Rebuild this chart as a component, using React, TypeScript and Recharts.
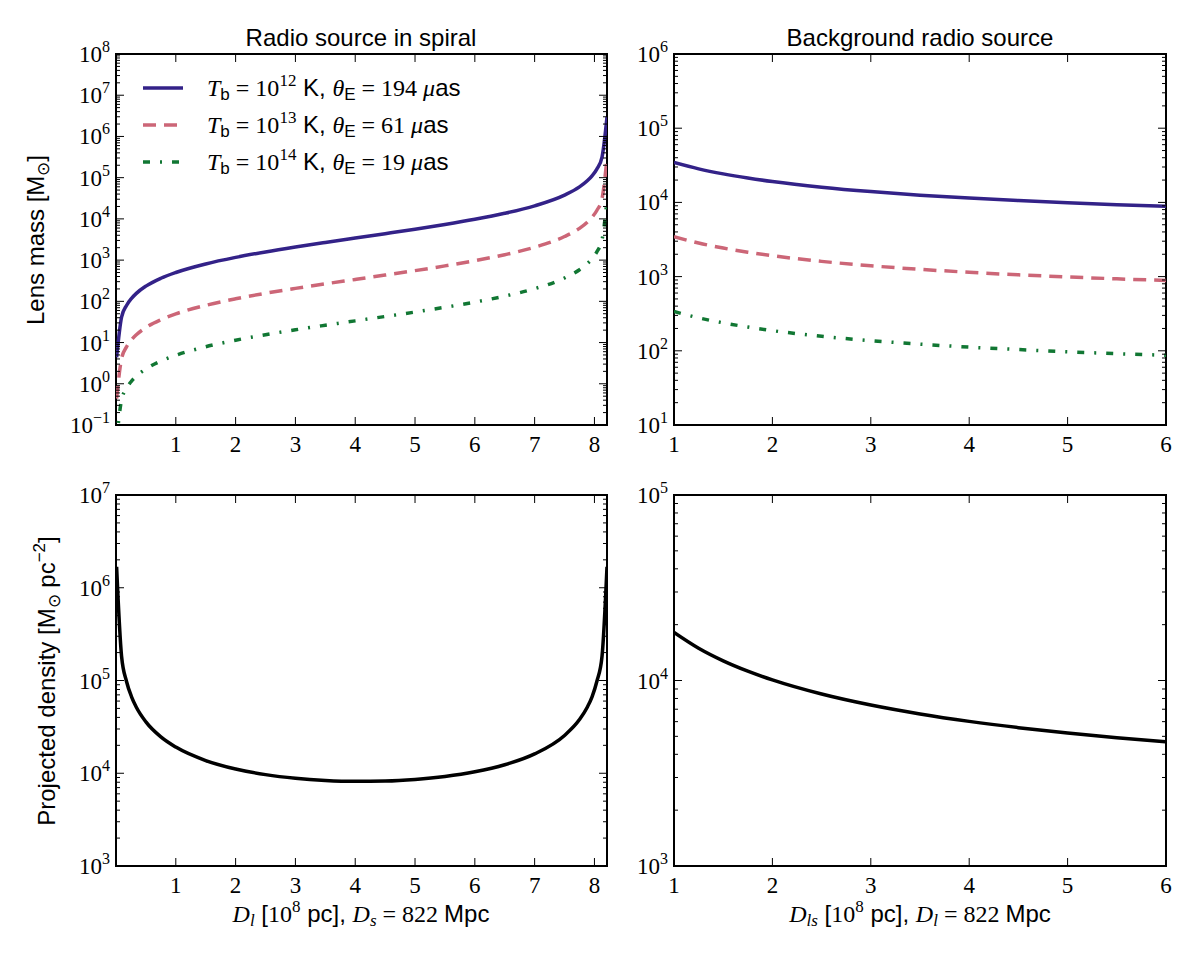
import React from 'react';
import { LineChart, Line, XAxis, YAxis, ReferenceArea, Legend } from 'recharts';

// ---------- data: radio source in spiral (x = D_l in 1e8 pc) ----------
const spiralDl = [0.01, 0.093, 0.176, 0.26, 0.34, 0.5, 0.75, 1, 1.5, 2, 2.5, 3, 3.5, 4, 4.5, 5, 5.5, 6, 6.5, 7, 7.5, 7.75, 7.88, 7.96, 8.04, 8.127, 8.21];
const spiralMassT12 = [4.4, 41.4, 79.2, 118, 156, 234, 363, 501, 807, 1163, 1581, 2079, 2682, 3428, 4375, 5614, 7313, 9777, 13666, 20750, 37680, 59620, 83820, 110750, 161570, 316050, 2970000];
const spiralMassT13 = [0.436, 4.1, 7.84, 11.7, 15.4, 23.2, 35.9, 49.6, 79.9, 115, 157, 206, 266, 339, 433, 556, 724, 968, 1353, 2054, 3731, 5903, 8299, 10965, 15997, 31292, 294000];
const spiralMassT14 = [0.0431, 0.406, 0.776, 1.16, 1.53, 2.29, 3.56, 4.91, 7.91, 11.4, 15.5, 20.4, 26.3, 33.6, 42.9, 55.0, 71.7, 95.9, 134, 203, 369, 585, 822, 1086, 1584, 3099, 29100];
const spiralDensity = [1682000, 182700, 97500, 66700, 51500, 35800, 24650, 19130, 13700, 11100, 9660, 8820, 8360, 8180, 8250, 8580, 9230, 10370, 12350, 16170, 25570, 37900, 51500, 66700, 97500, 182700, 1682000];

// ---------- data: background radio source (x = D_ls in 1e8 pc) ----------
const bgDls = [1, 1.25, 1.5, 1.75, 2, 2.5, 3, 3.5, 4, 4.5, 5, 5.5, 6];
const bgMassT12 = [34480, 28340, 24240, 21310, 19110, 16040, 13990, 12530, 11430, 10570, 9890, 9330, 8860];
const bgMassT13 = [3448, 2834, 2424, 2131, 1911, 1604, 1399, 1253, 1143, 1057, 989, 933, 886];
const bgMassT14 = [338, 278, 238, 209, 187, 157, 137, 123, 112, 104, 97, 91.5, 86.9];
const bgDensity = [18170, 14930, 12770, 11230, 10070, 8450, 7370, 6600, 6020, 5570, 5210, 4916, 4670];

// ---------- tick definitions ----------
const spiralXTicks = [1, 2, 3, 4, 5, 6, 7, 8];
const bgXTicks = [1, 2, 3, 4, 5, 6];
const massSpiralDecades = [-1, 8];
const massBgDecades = [1, 6];
const densSpiralDecades = [3, 7];
const densBgDecades = [3, 5];

// ---------- series meta ----------
const seriesMeta = [
  { key: 't12', tb: '12', theta: '194', color: '#332288', dash: undefined as string | undefined },
  { key: 't13', tb: '13', theta: '61', color: '#CC6677', dash: '13 8' },
  { key: 't14', tb: '14', theta: '19', color: '#117733', dash: '7 10 2 10' },
];

const spiralMassData = spiralDl.map((x, i) => ({ x, t12: spiralMassT12[i], t13: spiralMassT13[i], t14: spiralMassT14[i] }));
const bgMassData = bgDls.map((x, i) => ({ x, t12: bgMassT12[i], t13: bgMassT13[i], t14: bgMassT14[i] }));
const spiralDensData = spiralDl.map((x, i) => ({ x, d: spiralDensity[i] }));
const bgDensData = bgDls.map((x, i) => ({ x, d: bgDensity[i] }));

const SERIF = '"Liberation Serif", "DejaVu Serif", serif';
const SANS = '"Liberation Sans", Arial, sans-serif';
const FS = 24;
const FSS = 17;

function logTicks(dec: number[]) {
  const out: number[] = [];
  for (let n = dec[0]; n < dec[1]; n++) {
    for (let k = 1; k <= 9; k++) out.push(k * Math.pow(10, n));
  }
  out.push(Math.pow(10, dec[1]));
  return out;
}

const expStr = (e: number) => (e < 0 ? '\u2212' + Math.abs(e) : String(e));

function makeYTick(plotW: number) {
  return (props: any) => {
    const { x, y, payload } = props;
    const v = payload.value;
    const e = Math.log10(v);
    const major = Math.abs(e - Math.round(e)) < 1e-6;
    const len = major ? 8 : 4;
    return (
      <g>
        <line x1={x} x2={x + len} y1={y} y2={y} stroke="#000" strokeWidth={1} />
        <line x1={x + plotW} x2={x + plotW - len} y1={y} y2={y} stroke="#000" strokeWidth={1} />
        {major && (
          <text x={x - 6} y={y + 8} textAnchor="end" fontFamily={SERIF} fontSize={23} fill="#000">
            10
            <tspan dy={-10} fontSize={16}>{expStr(Math.round(e))}</tspan>
          </text>
        )}
      </g>
    );
  };
}

function makeXTick(plotH: number) {
  return (props: any) => {
    const { x, y, payload } = props;
    return (
      <g>
        <line x1={x} x2={x} y1={y} y2={y - 8} stroke="#000" strokeWidth={1} />
        <line x1={x} x2={x} y1={y - plotH} y2={y - plotH + 8} stroke="#000" strokeWidth={1} />
        <text x={x} y={y + 27} textAnchor="middle" fontFamily={SERIF} fontSize={23} fill="#000">
          {payload.value}
        </text>
      </g>
    );
  };
}

const LegendContent = () => (
  <svg width={400} height={120} style={{ display: 'block' }}>
    {seriesMeta.map((s, i) => {
      const ry = 20 + i * 37;
      return (
        <g key={s.key}>
          <line x1={8} x2={48} y1={ry} y2={ry} stroke={s.color} strokeWidth={3.5} strokeDasharray={s.dash} />
          <text x={72} y={ry + 8} fontSize={FS} fill="#000" style={{ whiteSpace: 'pre' }}>
            <tspan fontFamily={SERIF} fontStyle="italic">T</tspan>
            <tspan fontFamily={SANS} fontSize={FSS} dy={4}>b</tspan>
            <tspan fontFamily={SERIF} dy={-4}>{' = 10'}</tspan>
            <tspan fontFamily={SERIF} fontSize={FSS} dy={-10}>{s.tb}</tspan>
            <tspan fontFamily={SANS} dy={10}>{' K, '}</tspan>
            <tspan fontFamily={SERIF} fontStyle="italic">θ</tspan>
            <tspan fontFamily={SANS} fontSize={FSS} dy={4}>E</tspan>
            <tspan fontFamily={SERIF} dy={-4}>{' = ' + s.theta + ' '}</tspan>
            <tspan fontFamily={SERIF} fontStyle="italic">μ</tspan>
            <tspan fontFamily={SANS}>as</tspan>
          </text>
        </g>
      );
    })}
  </svg>
);

const PH = 371;
const PW_L = 491;
const PW_R = 492;

const abs = (left: number, top: number): React.CSSProperties => ({ position: 'absolute', left, top });

export default function App() {
  const massSpiralTicks = logTicks(massSpiralDecades);
  const massBgTicks = logTicks(massBgDecades);
  const densSpiralTicks = logTicks(densSpiralDecades);
  const densBgTicks = logTicks(densBgDecades);

  return (
    <div style={{ position: 'absolute', left: 0, top: 0, width: 1200, height: 960, background: '#fff', overflow: 'hidden' }}>
      {/* top-left */}
      <div style={abs(0, 0)}>
        <LineChart width={620} height={480} data={spiralMassData} margin={{ top: 54, right: 13, left: 56, bottom: 15 }}>
          <XAxis dataKey="x" type="number" domain={[0, 8.21]} ticks={spiralXTicks} allowDataOverflow interval={0}
            axisLine={false} tickLine={false} tickSize={0} tickMargin={0} height={40} tick={makeXTick(PH)} />
          <YAxis type="number" scale="log" domain={[0.1, 1e8]} ticks={massSpiralTicks} allowDataOverflow interval={0}
            axisLine={false} tickLine={false} tickSize={0} tickMargin={0} width={60} tick={makeYTick(PW_L)} />
          {seriesMeta.map((s) => (
            <Line key={s.key} dataKey={s.key} type="monotone" stroke={s.color} strokeWidth={3.5}
              strokeDasharray={s.dash} dot={false} activeDot={false} isAnimationActive={false} />
          ))}
          <ReferenceArea x1={0} x2={8.21} y1={0.1} y2={1e8} fill="none" stroke="#000" strokeWidth={2} ifOverflow="visible" />
          <Legend layout="vertical" align="center" verticalAlign="middle" content={LegendContent}
            wrapperStyle={{ left: 135, top: 68, width: 400, height: 120 }} />
        </LineChart>
      </div>
      {/* top-right */}
      <div style={abs(620, 0)}>
        <LineChart width={580} height={480} data={bgMassData} margin={{ top: 54, right: 34, left: 0, bottom: 15 }}>
          <XAxis dataKey="x" type="number" domain={[1, 6]} ticks={bgXTicks} allowDataOverflow interval={0}
            axisLine={false} tickLine={false} tickSize={0} tickMargin={0} height={40} tick={makeXTick(PH)} />
          <YAxis type="number" scale="log" domain={[10, 1e6]} ticks={massBgTicks} allowDataOverflow interval={0}
            axisLine={false} tickLine={false} tickSize={0} tickMargin={0} width={54} tick={makeYTick(PW_R)} />
          {seriesMeta.map((s) => (
            <Line key={s.key} dataKey={s.key} type="monotone" stroke={s.color} strokeWidth={3.5}
              strokeDasharray={s.dash} dot={false} activeDot={false} isAnimationActive={false} />
          ))}
          <ReferenceArea x1={1} x2={6} y1={10} y2={1e6} fill="none" stroke="#000" strokeWidth={2} ifOverflow="visible" />
        </LineChart>
      </div>
      {/* bottom-left */}
      <div style={abs(0, 480)}>
        <LineChart width={620} height={480} data={spiralDensData} margin={{ top: 15, right: 13, left: 56, bottom: 54 }}>
          <XAxis dataKey="x" type="number" domain={[0, 8.21]} ticks={spiralXTicks} allowDataOverflow interval={0}
            axisLine={false} tickLine={false} tickSize={0} tickMargin={0} height={40} tick={makeXTick(PH)} />
          <YAxis type="number" scale="log" domain={[1e3, 1e7]} ticks={densSpiralTicks} allowDataOverflow interval={0}
            axisLine={false} tickLine={false} tickSize={0} tickMargin={0} width={60} tick={makeYTick(PW_L)} />
          <Line dataKey="d" type="monotone" stroke="#000" strokeWidth={3.5} dot={false} activeDot={false} isAnimationActive={false} />
          <ReferenceArea x1={0} x2={8.21} y1={1e3} y2={1e7} fill="none" stroke="#000" strokeWidth={2} ifOverflow="visible" />
        </LineChart>
      </div>
      {/* bottom-right */}
      <div style={abs(620, 480)}>
        <LineChart width={580} height={480} data={bgDensData} margin={{ top: 15, right: 34, left: 0, bottom: 54 }}>
          <XAxis dataKey="x" type="number" domain={[1, 6]} ticks={bgXTicks} allowDataOverflow interval={0}
            axisLine={false} tickLine={false} tickSize={0} tickMargin={0} height={40} tick={makeXTick(PH)} />
          <YAxis type="number" scale="log" domain={[1e3, 1e5]} ticks={densBgTicks} allowDataOverflow interval={0}
            axisLine={false} tickLine={false} tickSize={0} tickMargin={0} width={54} tick={makeYTick(PW_R)} />
          <Line dataKey="d" type="monotone" stroke="#000" strokeWidth={3.5} dot={false} activeDot={false} isAnimationActive={false} />
          <ReferenceArea x1={1} x2={6} y1={1e3} y2={1e5} fill="none" stroke="#000" strokeWidth={2} ifOverflow="visible" />
        </LineChart>
      </div>
      {/* titles and axis labels */}
      <svg width={1200} height={960} style={{ position: 'absolute', left: 0, top: 0, pointerEvents: 'none' }}>
        <text x={361} y={46} textAnchor="middle" fontFamily={SANS} fontSize={FS} fill="#000">Radio source in spiral</text>
        <text x={920} y={46} textAnchor="middle" fontFamily={SANS} fontSize={FS} fill="#000">Background radio source</text>
        <text transform="translate(44,240) rotate(-90)" textAnchor="middle" fontFamily={SANS} fontSize={FS} fill="#000" style={{ whiteSpace: 'pre' }}>
          {'Lens mass [M'}
          <tspan fontSize={FSS} dy={5}>⊙</tspan>
          <tspan dy={-5}>]</tspan>
        </text>
        <text transform="translate(55,681) rotate(-90)" textAnchor="middle" fontFamily={SANS} fontSize={FS} fill="#000" style={{ whiteSpace: 'pre' }}>
          {'Projected density [M'}
          <tspan fontSize={FSS} dy={5}>⊙</tspan>
          <tspan dy={-5}>{' pc'}</tspan>
          <tspan fontSize={FSS} dy={-10}>−2</tspan>
          <tspan dy={10}>]</tspan>
        </text>
        <text x={361} y={922} textAnchor="middle" fontSize={FS} fill="#000" style={{ whiteSpace: 'pre' }}>
          <tspan fontFamily={SERIF} fontStyle="italic">D</tspan>
          <tspan fontFamily={SERIF} fontStyle="italic" fontSize={FSS} dy={4}>l</tspan>
          <tspan fontFamily={SANS} dy={-4}>{' ['}</tspan>
          <tspan fontFamily={SERIF}>10</tspan>
          <tspan fontFamily={SERIF} fontSize={FSS} dy={-10}>8</tspan>
          <tspan fontFamily={SANS} dy={10}>{' pc], '}</tspan>
          <tspan fontFamily={SERIF} fontStyle="italic">D</tspan>
          <tspan fontFamily={SERIF} fontStyle="italic" fontSize={FSS} dy={4}>s</tspan>
          <tspan fontFamily={SERIF} dy={-4}>{' = 822 '}</tspan>
          <tspan fontFamily={SANS}>Mpc</tspan>
        </text>
        <text x={920} y={922} textAnchor="middle" fontSize={FS} fill="#000" style={{ whiteSpace: 'pre' }}>
          <tspan fontFamily={SERIF} fontStyle="italic">D</tspan>
          <tspan fontFamily={SERIF} fontStyle="italic" fontSize={FSS} dy={4}>ls</tspan>
          <tspan fontFamily={SANS} dy={-4}>{' ['}</tspan>
          <tspan fontFamily={SERIF}>10</tspan>
          <tspan fontFamily={SERIF} fontSize={FSS} dy={-10}>8</tspan>
          <tspan fontFamily={SANS} dy={10}>{' pc], '}</tspan>
          <tspan fontFamily={SERIF} fontStyle="italic">D</tspan>
          <tspan fontFamily={SERIF} fontStyle="italic" fontSize={FSS} dy={4}>l</tspan>
          <tspan fontFamily={SERIF} dy={-4}>{' = 822 '}</tspan>
          <tspan fontFamily={SANS}>Mpc</tspan>
        </text>
      </svg>
    </div>
  );
}
